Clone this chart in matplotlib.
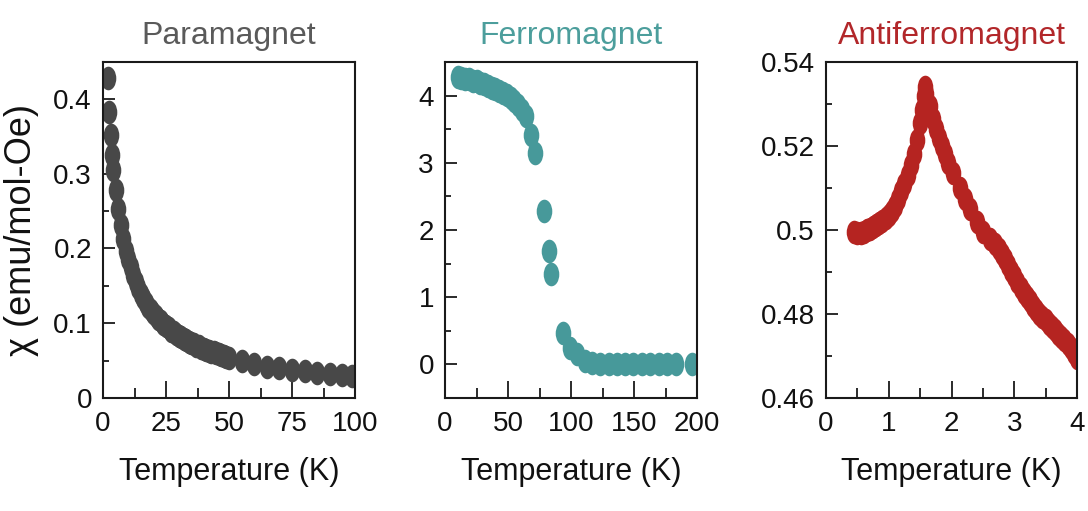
import matplotlib
matplotlib.use("Agg")
import matplotlib.pyplot as plt
from matplotlib import font_manager
from matplotlib.path import Path
from matplotlib.ticker import MultipleLocator, FixedLocator

# ---- data -------------------------------------------------------------
para_T = [2, 2.5, 3, 3.5, 4, 5, 6, 7, 8, 9, 10, 11, 12, 13, 14, 15, 16, 17,
          18, 19, 20, 21, 22, 23, 24, 25, 26, 27, 28, 29, 30, 31, 32, 33, 34,
          35, 36, 37, 38, 39, 40, 41, 42, 43, 44, 45, 46, 47, 48, 49, 50,
          55, 60, 65, 70, 75, 80, 85, 90, 95, 99]
para_chi = [0.427, 0.382, 0.351, 0.325, 0.305, 0.278, 0.252, 0.231, 0.212,
            0.197, 0.186, 0.175, 0.164, 0.155, 0.147, 0.139, 0.133, 0.127,
            0.122, 0.117, 0.113, 0.110, 0.106, 0.103, 0.099, 0.096, 0.093,
            0.090, 0.088, 0.085, 0.083, 0.081, 0.079, 0.077, 0.075, 0.073,
            0.072, 0.070, 0.069, 0.067, 0.066, 0.064, 0.063, 0.062, 0.061,
            0.060, 0.059, 0.057, 0.056, 0.055, 0.053,
            0.049, 0.045, 0.042, 0.040, 0.038, 0.036, 0.034, 0.032, 0.031,
            0.029]

ferro_T = [10, 13, 16, 19, 22, 25, 28, 31, 34, 37, 40, 43, 46, 49, 52, 55,
           58, 61, 64, 68, 71.5, 78.7, 82.6, 84.2, 93.5, 99.3, 104.6, 111,
           116.6, 123, 130, 136.4, 143, 149.6, 156.3, 163, 169.5, 176, 183,
           196]
ferro_chi = [4.27, 4.26, 4.25, 4.24, 4.22, 4.21, 4.19, 4.17, 4.15, 4.12,
             4.10, 4.07, 4.04, 4.01, 3.97, 3.92, 3.86, 3.79, 3.70, 3.42,
             3.15, 2.29, 1.69, 1.35, 0.47, 0.25, 0.15, 0.05, 0.02, 0.01,
             0.01, 0.0, 0.0, 0.0, 0.0, 0.0, 0.0, 0.0, 0.0, 0.0]

afm_T = [0.45, 0.50, 0.55, 0.60, 0.65, 0.70, 0.75, 0.80, 0.85, 0.90, 0.95,
         1.00, 1.05, 1.10, 1.15, 1.20, 1.25, 1.30, 1.35, 1.40, 1.45, 1.50,
         1.53, 1.56, 1.58, 1.60, 1.65, 1.70, 1.75, 1.80, 1.85, 1.90, 1.95,
         2.03, 2.13, 2.22, 2.30, 2.40, 2.50, 2.62, 2.70, 2.75, 2.80, 2.85,
         2.90, 2.95, 3.00, 3.05, 3.10, 3.15, 3.20, 3.25, 3.30, 3.35, 3.40,
         3.45, 3.50, 3.55, 3.60, 3.65, 3.70, 3.75, 3.80, 3.85, 3.90, 3.95,
         4.00]
afm_chi = [0.4995, 0.4993, 0.4994, 0.4996, 0.4999, 0.5002, 0.5006, 0.5011,
           0.5016, 0.5022, 0.5029, 0.5036, 0.5046, 0.5058, 0.5074, 0.5092,
           0.5110, 0.5132, 0.5155, 0.5180, 0.5215, 0.5255, 0.5285, 0.5320,
           0.5340, 0.5325, 0.5295, 0.5265, 0.5240, 0.5220, 0.5200, 0.5180,
           0.5160, 0.5135, 0.5100, 0.5075, 0.5050, 0.5020, 0.4996, 0.4978,
           0.4966, 0.4955, 0.4943, 0.4930, 0.4917, 0.4903, 0.4890, 0.4877,
           0.4863, 0.4850, 0.4840, 0.4830, 0.4820, 0.4810, 0.4801, 0.4793,
           0.4785, 0.4777, 0.4769, 0.4761, 0.4753, 0.4745, 0.4737, 0.4728,
           0.4718, 0.4707, 0.4695]

titles = ["Paramagnet", "Ferromagnet", "Antiferromagnet"]
title_colors = ["#5a5a5a", "#4c9e9c", "#b2272a"]
dot_colors = ["#484848", "#47999a", "#b52421"]

# ---- fonts ------------------------------------------------------------
installed = {f.name for f in font_manager.fontManager.ttflist}
narrow = "Liberation Sans Narrow" if "Liberation Sans Narrow" in installed else "Liberation Sans"
plt.rcParams["font.family"] = [narrow, "DejaVu Sans"]

# tall elliptical dot marker
_c = Path.unit_circle()
ellipse = Path(_c.vertices * [0.66, 1.0], _c.codes)

fig = plt.figure(figsize=(10.88, 5.11), dpi=100)
W, H = 1088, 511
boxes = [(103, 355), (445, 697), (826, 1077)]
top, bottom = 62, 398

panels = [
    dict(T=para_T, chi=para_chi, xlim=(0, 100), ylim=(0, 0.449),
         xmaj=[0, 25, 50, 75, 100], xmin=12.5, ymaj=[0, 0.1, 0.2, 0.3, 0.4],
         ymin=0.05, ylabels=["0", "0.1", "0.2", "0.3", "0.4"]),
    dict(T=ferro_T, chi=ferro_chi, xlim=(0, 200), ylim=(-0.5, 4.5),
         xmaj=[0, 50, 100, 150, 200], xmin=25, ymaj=[0, 1, 2, 3, 4],
         ymin=0.5, ylabels=["0", "1", "2", "3", "4"]),
    dict(T=afm_T, chi=afm_chi, xlim=(0, 4), ylim=(0.46, 0.54),
         xmaj=[0, 1, 2, 3, 4], xmin=0.5,
         ymaj=[0.46, 0.48, 0.50, 0.52, 0.54], ymin=0.01,
         ylabels=["0.46", "0.48", "0.5", "0.52", "0.54"]),
]

for i, (p, (x0, x1)) in enumerate(zip(panels, boxes)):
    ax = fig.add_axes([x0 / W, (H - bottom) / H, (x1 - x0) / W,
                       (bottom - top) / H])
    ax.plot(p["T"], p["chi"], linestyle="none", marker=ellipse,
            markersize=17, color=dot_colors[i], markeredgewidth=0)
    ax.set_xlim(*p["xlim"])
    ax.set_ylim(*p["ylim"])
    ax.xaxis.set_major_locator(FixedLocator(p["xmaj"]))
    ax.xaxis.set_minor_locator(MultipleLocator(p["xmin"]))
    ax.yaxis.set_major_locator(FixedLocator(p["ymaj"]))
    ax.yaxis.set_minor_locator(MultipleLocator(p["ymin"]))
    ax.set_xticklabels([f"{v:g}" for v in p["xmaj"]])
    ax.set_yticklabels(p["ylabels"])
    for s in ax.spines.values():
        s.set_linewidth(1.5)
        s.set_color("#1a1a1a")
    ax.tick_params(axis="both", which="both", direction="in", width=1.3,
                   colors="#1a1a1a", labelsize=20, labelcolor="#111111")
    ax.tick_params(axis="x", which="major", length=12, pad=9)
    ax.tick_params(axis="x", which="minor", length=7)
    ax.tick_params(axis="y", which="major", length=8.5, pad=8)
    ax.tick_params(axis="y", which="minor", length=4)
    ax.tick_params(top=False, right=False, which="both")
    ax.set_xlabel("Temperature (K)", fontsize=22, labelpad=15, color="#111111")
    ax.set_title(titles[i], fontsize=23, color=title_colors[i], pad=13)
    if i == 0:
        ax.set_ylabel("χ (emu/mol-Oe)", fontsize=26, labelpad=10,
                      color="#111111",
                      family=["Liberation Sans", "DejaVu Sans"])

fig.savefig("out.png", dpi=100, facecolor="white")
